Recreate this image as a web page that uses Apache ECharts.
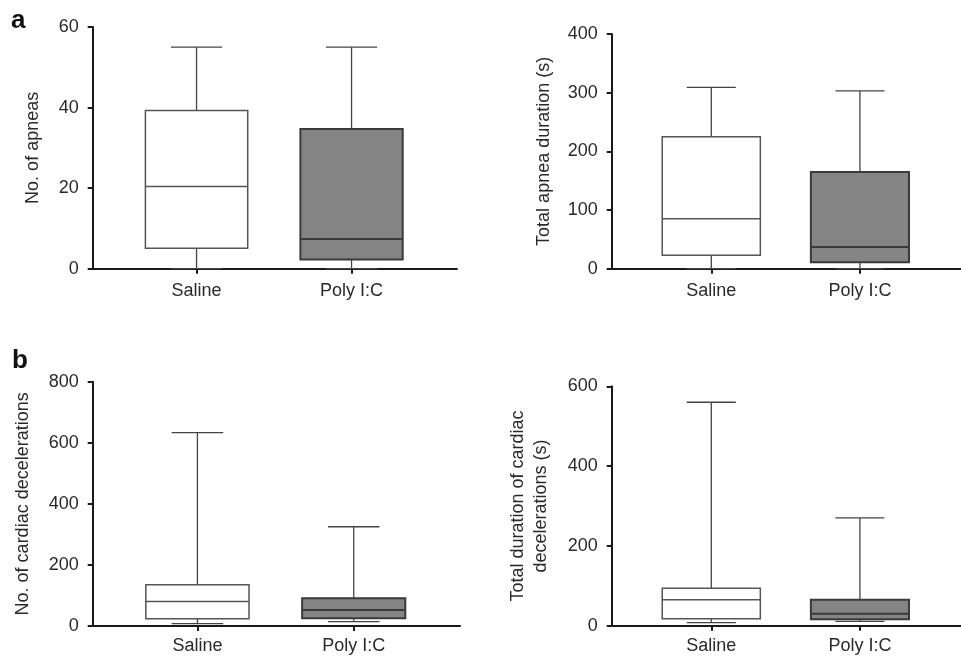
<!DOCTYPE html>
<html>
<head>
<meta charset="utf-8">
<script src="https://cdn.jsdelivr.net/npm/echarts@6/dist/echarts.min.js"></script>
<style>
html,body{margin:0;padding:0;background:#fff;}
#chart{width:961px;height:659px;}
</style>
</head>
<body>
<div id="chart"></div>
<script>
// ---- data ----
const categories = ['Saline', 'Poly I:C'];
// [min, Q1, median, Q3, max]
const apneaCount = [[0, 5.1, 20.4, 39.3, 55], [0, 2.3, 7.4, 34.7, 55]];
const apneaDuration = [[0, 22.8, 85, 225, 309], [0, 10.9, 37, 165, 303]];
const decelCount = [[7.6, 24, 80, 135, 633], [14, 25, 52, 91, 325]];
const decelDuration = [[7.5, 17.5, 65, 94, 560], [11, 16, 30, 65, 270]];
const yTitles = ['No. of apneas', 'Total apnea duration (s)', 'No. of cardiac decelerations', 'Total duration of cardiac\ndecelerations (s)'];
const yMax = [60, 400, 800, 600];
const yInterval = [20, 100, 200, 200];
const panelLetters = ['a', 'b'];

// ---- layout / style ----
const panels = [
  {data: apneaCount,   left: 92.7,  top: 27,    bottom: 268.7, band: 155,   gap: 48, lm: 13},
  {data: apneaDuration,left: 611.7, top: 34,    bottom: 268.7, band: 150.7, gap: 56, lm: 13},
  {data: decelCount,   left: 92.7,  top: 381.7, bottom: 626,   band: 156.3, gap: 58, lm: 11},
  {data: decelDuration,left: 611.7, top: 386.3, bottom: 625.7, band: 154,   gap: 59, lm: 11}
];
const xMin = -0.67, xMax = 1.68;
const FONT = '"Liberation Sans", Arial, Helvetica, sans-serif';
const TXT = '#2a2a2a';
const boxStyles = [
  {fill: '#ffffff', stroke: '#555555', lineWidth: 1.5},
  {fill: '#858585', stroke: '#3a3a3a', lineWidth: 2}
];
const whiskerStyle = {stroke: '#444444', lineWidth: 1.3};
const BOX_FRAC = 0.66, CAP_FRAC = 0.33;

function renderBox(params, api) {
  const x = api.value(0);
  const pMin = api.coord([x, api.value(1)]);
  const pQ1 = api.coord([x, api.value(2)]);
  const pMed = api.coord([x, api.value(3)]);
  const pQ3 = api.coord([x, api.value(4)]);
  const pMax = api.coord([x, api.value(5)]);
  const band = api.size([1, 0])[0];
  const hb = band * BOX_FRAC / 2, hc = band * CAP_FRAC / 2;
  const cx = pQ1[0];
  const st = boxStyles[params.dataIndex % boxStyles.length];
  return {
    type: 'group',
    children: [
      {type: 'line', shape: {x1: cx, y1: pQ3[1], x2: cx, y2: pMax[1]}, style: whiskerStyle},
      {type: 'line', shape: {x1: cx, y1: pQ1[1], x2: cx, y2: pMin[1]}, style: whiskerStyle},
      {type: 'line', shape: {x1: cx - hc, y1: pMax[1], x2: cx + hc, y2: pMax[1]}, style: whiskerStyle},
      {type: 'line', shape: {x1: cx - hc, y1: pMin[1], x2: cx + hc, y2: pMin[1]}, style: whiskerStyle},
      {type: 'rect', shape: {x: cx - hb, y: pQ3[1], width: 2 * hb, height: pQ1[1] - pQ3[1]}, style: st},
      {type: 'line', shape: {x1: cx - hb, y1: pMed[1], x2: cx + hb, y2: pMed[1]}, style: {stroke: st.stroke, lineWidth: st.lineWidth}}
    ]
  };
}

const grid = [], xAxis = [], yAxis = [], series = [];
panels.forEach((p, i) => {
  grid.push({left: p.left, top: p.top, width: p.band * (xMax - xMin), height: p.bottom - p.top, containLabel: false});
  xAxis.push({
    type: 'value', gridIndex: i, min: xMin, max: xMax,
    splitLine: {show: false},
    axisLine: {show: true, onZero: false, lineStyle: {color: '#1a1a1a', width: 2}},
    axisTick: {show: true, length: 5, inside: false, customValues: [0, 1], lineStyle: {color: '#1a1a1a', width: 2}},
    axisLabel: {show: true, customValues: [0, 1], margin: p.lm, color: TXT, fontSize: 18, fontFamily: FONT,
      formatter: v => categories[Math.round(v)] || ''}
  });
  yAxis.push({
    type: 'value', gridIndex: i, min: 0, max: yMax[i], interval: yInterval[i],
    name: yTitles[i], nameLocation: 'middle', nameRotate: 90, nameGap: p.gap,
    nameTextStyle: {color: TXT, fontSize: 18, fontFamily: FONT, lineHeight: 23},
    splitLine: {show: false},
    axisLine: {show: true, onZero: false, lineStyle: {color: '#1a1a1a', width: 2}},
    axisTick: {show: true, length: 5, lineStyle: {color: '#1a1a1a', width: 2}},
    axisLabel: {margin: 14, color: TXT, fontSize: 18, fontFamily: FONT}
  });
  series.push({
    type: 'custom', xAxisIndex: i, yAxisIndex: i,
    renderItem: renderBox,
    encode: {x: 0, y: [1, 2, 3, 4, 5]},
    data: p.data.map((d, k) => [k].concat(d)),
    silent: true,
    clip: false
  });
});

const chart = echarts.init(document.getElementById('chart'), null, {renderer: 'canvas'});
chart.setOption({
  animation: false,
  backgroundColor: '#ffffff',
  grid, xAxis, yAxis, series,
  graphic: [
    {type: 'text', left: 11, top: 8, style: {text: panelLetters[0], font: 'bold 26px ' + FONT, fill: '#111'}},
    {type: 'text', left: 12, top: 348, style: {text: panelLetters[1], font: 'bold 26px ' + FONT, fill: '#111'}}
  ]
});
</script>
</body>
</html>
